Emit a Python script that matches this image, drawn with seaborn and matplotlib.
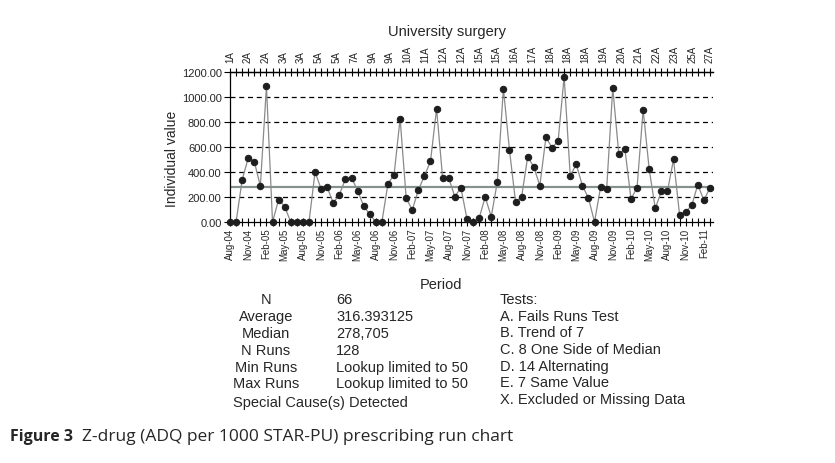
import numpy as np
import pandas as pd
import matplotlib
matplotlib.use("Agg")
import matplotlib.pyplot as plt
import seaborn as sns

# monthly values, Aug-04 .. Mar-11
values = [0, 0, 336, 512, 483, 288, 1085, 0, 179, 123,
          0, 0, 0, 0, 400, 264, 277, 152, 219, 344,
          355, 251, 128, 61, 0, 0, 307, 376, 827, 192,
          96, 256, 368, 485, 904, 352, 352, 203, 275, 27,
          0, 29, 200, 43, 320, 1067, 576, 160, 200, 523,
          440, 291, 677, 595, 645, 1163, 371, 461, 291, 192,
          0, 280, 267, 1072, 541, 584, 184, 275, 899, 421,
          109, 245, 245, 501, 56, 80, 133, 299, 173, 275]
periods = pd.date_range("2004-08-01", "2011-03-01", freq="MS")
median_value = 278.705

surgery_labels = ["1A", "2A", "2A", "3A", "3A", "5A", "5A", "7A", "9A", "9A",
                  "10A", "11A", "12A", "12A", "15A", "15A", "16A", "17A", "18A", "18A",
                  "18A", "19A", "20A", "21A", "22A", "23A", "25A", "27A"]

stat_names = ["N", "Average", "Median", "N Runs", "Min Runs", "Max Runs"]
stat_values = ["66", "316.393125", "278,705", "128",
               "Lookup limited to 50", "Lookup limited to 50"]
tests = ["Tests:", "A. Fails Runs Test", "B. Trend of 7", "C. 8 One Side of Median",
         "D. 14 Alternating", "E. 7 Same Value", "X. Excluded or Missing Data"]

sns.set_theme(style="white")
plt.rcParams["font.family"] = ["Liberation Sans", "DejaVu Sans"]

W, H = 835, 464
fig = plt.figure(figsize=(W / 100, H / 100), dpi=100)
ax = fig.add_axes([230 / W, (H - 223) / H, (713 - 230) / W, 150 / H])

df = pd.DataFrame({"idx": np.arange(len(values)), "value": values})

for yv in [200, 400, 600, 800, 1000]:
    ax.axhline(yv, color="black", linestyle=(0, (4, 3)), linewidth=0.9, zorder=1)
ax.axhline(median_value, color="#84918c", linewidth=1.6, zorder=2)

sns.lineplot(data=df, x="idx", y="value", ax=ax, color="#8a8a8a", linewidth=0.9,
             marker="o", markersize=4.6, markerfacecolor="#1e1e1e",
             markeredgecolor="#1e1e1e", clip_on=False, zorder=3)

ax.set_xlim(0, 79.5)
ax.set_ylim(0, 1200)
ax.set_yticks(np.arange(0, 1201, 200))
ax.set_yticklabels([f"{v:.2f}" for v in np.arange(0, 1201, 200)], fontsize=8)

major = np.arange(0, len(periods), 3)
ax.set_xticks(major)
ax.set_xticklabels([periods[i].strftime("%b-%y") for i in major], rotation=90, fontsize=7)
ax.set_xticks(np.arange(len(values)), minor=True)
ax.tick_params(axis="x", which="both", direction="inout", length=6, width=0.8,
               top=True, bottom=True, color="black", pad=1)
ax.tick_params(axis="y", direction="out", length=4, width=0.8, color="black",
               left=True, pad=2)

for side in ["left", "bottom", "top"]:
    ax.spines[side].set_visible(True)
    ax.spines[side].set_color("black")
    ax.spines[side].set_linewidth(0.9)
ax.spines["right"].set_visible(False)

ax.set_xlabel("")
ax.set_ylabel("Individual value", fontsize=10)
ax.yaxis.set_label_coords(-0.105, 0.43)

top = ax.secondary_xaxis("top")
top.set_xticks(np.linspace(0, len(values) - 1, len(surgery_labels)))
top.set_xticklabels(surgery_labels, rotation=90, fontsize=7)
top.tick_params(length=0, pad=7)
top.spines["top"].set_color("black")
top.spines["top"].set_linewidth(0.9)

fig.text(447 / W, 1 - 32 / H, "University surgery", ha="center", va="center", fontsize=10.5)
fig.text(441 / W, 1 - 285 / H, "Period", ha="center", va="center", fontsize=10.5)

row_y = [300, 317, 334, 351, 368, 384]
for name, val, yy in zip(stat_names, stat_values, row_y):
    fig.text(266 / W, 1 - yy / H, name, ha="center", va="center", fontsize=10.5)
    fig.text(336 / W, 1 - yy / H, val, ha="left", va="center", fontsize=10.5)
fig.text(320 / W, 1 - 403 / H, "Special Cause(s) Detected", ha="center", va="center", fontsize=10.5)

for k, t in enumerate(tests):
    fig.text(500 / W, 1 - (300 + k * 16.7) / H, t, ha="left", va="center", fontsize=10.5)

cap_font = ["Open Sans", "DejaVu Sans"]
fig.text(10 / W, 1 - 437 / H, "Figure 3", ha="left", va="center", fontsize=11.5,
         fontweight="bold", family=cap_font)
fig.text(82 / W, 1 - 437 / H, "Z-drug (ADQ per 1000 STAR-PU) prescribing run chart",
         ha="left", va="center", fontsize=12.5, family=cap_font)

fig.savefig("out.png", dpi=100)
